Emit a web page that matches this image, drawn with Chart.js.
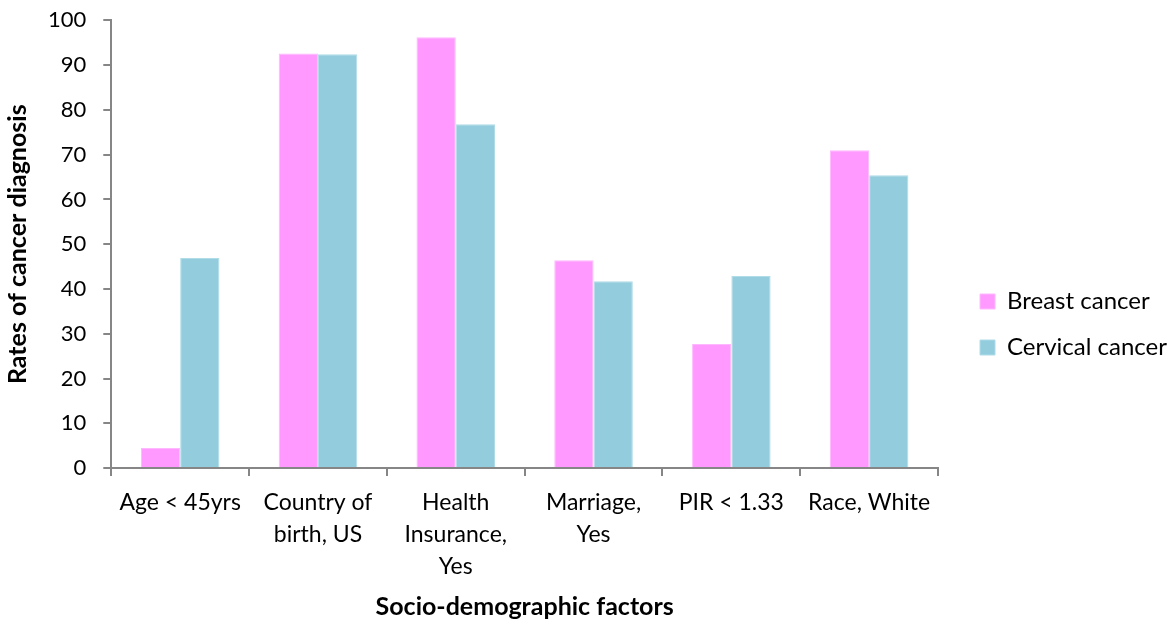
<!DOCTYPE html>
<html>
<head>
<meta charset="utf-8">
<script src="https://cdn.jsdelivr.net/npm/chart.js@4"></script>
<style>
  html, body { margin: 0; padding: 0; background: #fff; }
  #wrap { width: 1172px; height: 625px; }
</style>
</head>
<body>
<div id="wrap"><canvas id="Chart1"></canvas></div>
<script>
const categories = [
    "Age < 45yrs",
    ["Country of", "birth, US"],
    ["Health", "Insurance,", "Yes"],
    ["Marriage,", "Yes"],
    "PIR < 1.33",
    "Race, White"
];
const breastCancer = [4.5, 92.6, 96.2, 46.4, 27.7, 71.0];
const cervicalCancer = [46.9, 92.4, 76.8, 41.7, 42.9, 65.4];
const yTicks = [0, 10, 20, 30, 40, 50, 60, 70, 80, 90, 100];

Chart.defaults.font.family = "Lato, 'Open Sans', sans-serif";
Chart.defaults.color = '#000';

// widen the legend box so the plot ends earlier, then place it next to the plot
const legendGap = 11;
const legendShift = {
    id: 'legendShift',
    beforeUpdate(chart) {
        const lg = chart.legend;
        if (lg && !lg._wrapped) {
            const fit = lg.fit;
            lg.fit = function () {
                fit.call(this);
                this.width += legendGap;
            };
            lg._wrapped = true;
        }
    },
    afterLayout(chart) {
        const lg = chart.legend;
        lg.left = chart.chartArea.right + 20;
        lg.top += 12;
        lg.bottom += 12;
    },
};

const ctx = document.getElementById("Chart1");
new Chart(ctx, {
    type: "bar",
    data: {
        labels: categories,
        datasets: [
            {
                label: "Breast cancer",
                data: breastCancer,
                backgroundColor: "#FF99FF",
                borderColor: "#FFB8FF",
                borderWidth: 1,
            },
            {
                label: "Cervical cancer",
                data: cervicalCancer,
                backgroundColor: "#93CDDD",
                borderColor: "#B0DCE8",
                borderWidth: 1,
            },
        ],
    },
    options: {
        responsive: true,
        maintainAspectRatio: false,
        animation: false,
        layout: { padding: { top: 4, right: 4, bottom: 4, left: 4 } },
        datasets: {
            bar: { categoryPercentage: 0.57, barPercentage: 1.0 }
        },
        plugins: {
            legend: {
                position: 'right',
                labels: {
                    boxWidth: 15,
                    boxHeight: 15,
                    padding: 22,
                    font: { size: 24 },
                },
            },
            tooltip: { enabled: false },
        },
        scales: {
            x: {
                grid: {
                    display: true,
                    drawOnChartArea: false,
                    drawTicks: true,
                    tickLength: 8,
                    color: '#868686',
                    lineWidth: 2,
                    offset: true,
                },
                border: { color: '#868686', width: 2 },
                ticks: {
                    font: { size: 23, lineHeight: 1.39 },
                    maxRotation: 0,
                    autoSkip: false,
                    padding: 11,
                },
                title: {
                    display: true,
                    text: 'Socio-demographic factors',
                    font: { size: 25, weight: 'bold', lineHeight: 1.0 },
                    padding: { top: 0, bottom: 2 },
                },
            },
            y: {
                min: 0,
                max: 100,
                afterBuildTicks: (axis) => {
                    axis.ticks = yTicks.map(v => ({ value: v }));
                },
                grid: {
                    drawOnChartArea: false,
                    drawTicks: true,
                    tickLength: 8,
                    color: '#868686',
                    lineWidth: 2,
                },
                border: { color: '#868686', width: 2 },
                ticks: {
                    font: { size: 22, lineHeight: 0.3 },
                    padding: 17,
                },
                title: {
                    display: true,
                    text: 'Rates of cancer diagnosis',
                    font: { size: 25, weight: 'bold', lineHeight: 0.88 },
                    padding: { top: 3, bottom: 2 },
                },
            },
        },
    },
    plugins: [legendShift],
});
</script>
</body>
</html>
